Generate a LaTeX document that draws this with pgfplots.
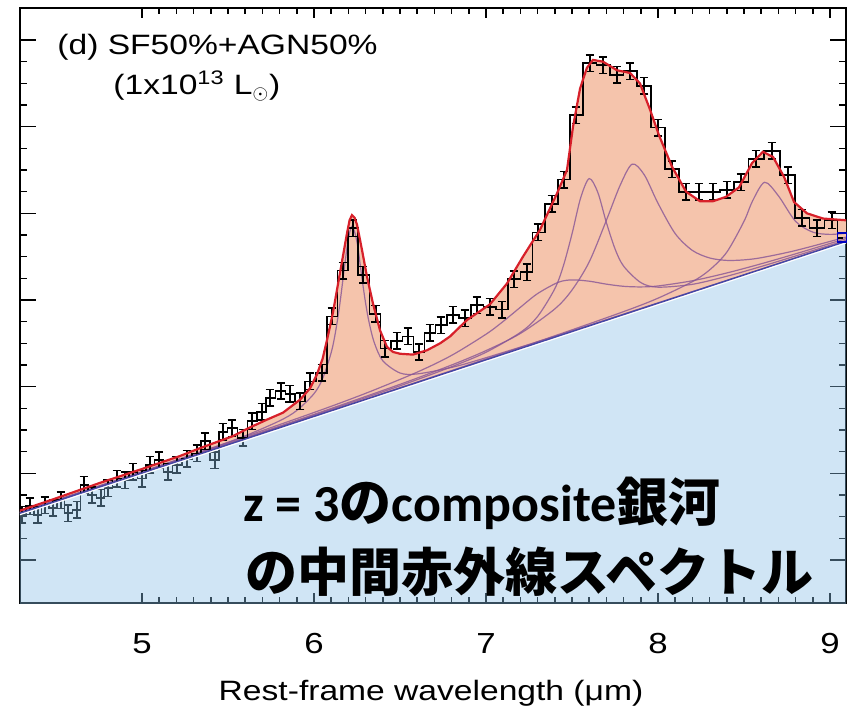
\documentclass[border=0pt]{standalone}
\usepackage{fontspec}
\setmainfont{Liberation Sans}[FakeStretch=1.2]
\newfontfamily\jp{Noto Sans CJK JP}
\newfontfamily\lat{Carlito}
\usepackage{pgfplots}
\pgfplotsset{compat=1.18}
\definecolor{salmon}{RGB}{245,196,172}
\definecolor{skyb}{RGB}{137,190,230}
\definecolor{fitred}{RGB}{215,32,42}
\definecolor{comp}{RGB}{135,85,150}
\definecolor{contl}{RGB}{70,70,165}
\begin{document}
\begin{tikzpicture}
\useasboundingbox (0,0) rectangle (425.5pt,354pt);
\begin{axis}[
 at={(10pt,52.5pt)}, anchor=south west, scale only axis,
 width=413pt, height=297.5pt,
 xmin=4.291, xmax=9.093, ymin=-0.496, ymax=6.369,
 xtick={5,6,7,8,9}, minor x tick num=9,
 ytick={0,1,2,3,4,5,6}, minor y tick num=3, yticklabels={},
 tick align=inside, xtick pos=both, ytick pos=both,
 major tick length=8pt, minor tick length=3.5pt,
 major x tick style={/pgfplots/major tick length=5pt},
 minor x tick style={/pgfplots/minor tick length=3pt},
 tick style={black, line width=0.8pt},
 axis line style={line width=1pt},
 /pgf/number format/assume math mode=true,
 xticklabel style={font=\fontsize{14.5}{16}\selectfont, yshift=-11.5pt},
]
% orange area between fit and continuum
\addplot[fill=salmon, draw=none] coordinates {
(4.291,0.57) (4.483,0.70) (4.756,0.89) (5.0,1.05) (5.221,1.20) (5.337,1.29) (5.529,1.43) (5.628,1.53) (5.727,1.62) (5.820,1.70) (5.919,1.85) (5.977,1.98) (6.017,2.14) (6.050,2.32) (6.076,2.54) (6.110,2.85) (6.151,3.31) (6.192,3.77) (6.207,3.92) (6.221,3.98) (6.236,3.95) (6.250,3.87) (6.279,3.58) (6.308,3.27) (6.343,2.96) (6.384,2.65) (6.424,2.46) (6.460,2.40) (6.500,2.38) (6.576,2.37) (6.657,2.42) (6.733,2.50) (6.791,2.58) (6.890,2.77) (7.023,2.95) (7.122,3.19) (7.215,3.50) (7.314,3.81) (7.413,4.23) (7.471,4.50) (7.506,5.00) (7.547,5.44) (7.587,5.68) (7.622,5.77) (7.680,5.75) (7.762,5.65) (7.837,5.62) (7.895,5.50) (7.953,5.20) (8.006,4.90) (8.081,4.54) (8.163,4.25) (8.244,4.14) (8.320,4.14) (8.395,4.19) (8.471,4.30) (8.547,4.58) (8.610,4.71) (8.669,4.65) (8.733,4.42) (8.791,4.13) (8.866,4.00) (8.959,3.94) (9.093,3.92)
(9.093,3.6746) (4.291,0.5406)} -- cycle;
% components
\addplot[comp, line width=0.6pt, smooth, opacity=0.8] coordinates {
(4.291,0.545) (5.0,1.014) (5.4,1.287) (5.6,1.433) (5.8,1.606) (5.9,1.725) (6.0,1.919) (6.05,2.092) (6.1,2.392) (6.125,2.629) (6.15,2.949) (6.18,3.422) (6.2,3.708) (6.222,3.852) (6.25,3.670) (6.28,3.238) (6.3,2.966) (6.32,2.746) (6.35,2.512) (6.4,2.299) (6.5,2.158) (6.6,2.147) (6.8,2.222) (7.0,2.334) (7.4,2.581) (8.0,2.967) (9.093,3.676)};
\addplot[comp, line width=0.6pt, smooth, opacity=0.8] coordinates {
(4.291,0.551) (5.0,1.020) (5.5,1.356) (6.0,1.702) (6.3,1.923) (6.6,2.168) (6.8,2.361) (7.0,2.605) (7.1,2.753) (7.2,2.916) (7.3,3.074) (7.42,3.204) (7.5,3.232) (7.6,3.217) (7.7,3.183) (7.8,3.158) (7.9,3.151) (8.0,3.162) (8.2,3.222) (8.4,3.312) (8.6,3.418) (8.8,3.533) (9.093,3.708)};
\addplot[comp, line width=0.6pt, smooth, opacity=0.8] coordinates {
(4.291,0.549) (5.5,1.338) (6.0,1.670) (6.5,2.010) (6.8,2.230) (7.0,2.397) (7.2,2.626) (7.3,2.810) (7.4,3.130) (7.45,3.395) (7.5,3.762) (7.55,4.176) (7.6,4.401) (7.65,4.242) (7.7,3.893) (7.75,3.591) (7.8,3.391) (7.9,3.201) (8.0,3.148) (8.2,3.181) (8.4,3.274) (8.6,3.387) (8.8,3.508) (9.093,3.689)};
\addplot[comp, line width=0.6pt, smooth, opacity=0.8] coordinates {
(4.291,0.547) (5.5,1.345) (6.0,1.680) (6.5,2.027) (6.8,2.250) (7.0,2.416) (7.2,2.614) (7.4,2.897) (7.5,3.115) (7.6,3.439) (7.7,3.920) (7.78,4.324) (7.85,4.568) (7.92,4.445) (8.0,4.116) (8.1,3.766) (8.2,3.572) (8.3,3.485) (8.4,3.457) (8.5,3.463) (8.6,3.488) (8.8,3.571) (9.093,3.726)};
\addplot[comp, line width=0.6pt, smooth, opacity=0.8] coordinates {
(4.291,0.543) (6.0,1.660) (6.5,1.988) (7.0,2.319) (7.4,2.587) (7.8,2.866) (8.0,3.021) (8.2,3.212) (8.3,3.347) (8.4,3.552) (8.5,3.908) (8.55,4.144) (8.62,4.358) (8.7,4.202) (8.8,3.907) (8.9,3.783) (9.0,3.757) (9.093,3.771)};
% data histogram
\addplot[const plot mark mid, black, line width=0.9pt] coordinates {
(4.28,0.52) (4.302,0.52) (4.349,0.62) (4.395,0.52) (4.436,0.63) (4.483,0.60) (4.529,0.69) (4.570,0.54) (4.622,0.58) (4.663,0.87) (4.709,0.75) (4.762,0.72) (4.802,0.83) (4.855,0.94) (4.901,0.92) (4.948,1.02) (5.000,0.94) (5.047,1.10) (5.099,1.15) (5.151,1.02) (5.203,1.10) (5.262,1.17) (5.320,1.23) (5.366,1.37) (5.424,1.15) (5.471,1.48) (5.523,1.52) (5.587,1.41) (5.640,1.60) (5.698,1.71) (5.744,1.87) (5.808,1.95) (5.860,1.92) (5.919,1.83) (5.977,2.06) (6.047,2.16) (6.105,2.81) (6.169,3.34) (6.227,3.83) (6.285,3.29) (6.360,2.84) (6.413,2.44) (6.483,2.53) (6.547,2.58) (6.610,2.40) (6.674,2.62) (6.738,2.71) (6.808,2.83) (6.878,2.79) (6.948,2.94) (7.023,2.92) (7.093,2.89) (7.163,3.24) (7.238,3.32) (7.302,3.78) (7.384,4.11) (7.453,4.39) (7.523,5.13) (7.605,5.73) (7.680,5.71) (7.762,5.60) (7.837,5.64) (7.919,5.47) (8.000,4.99) (8.081,4.51) (8.163,4.25) (8.238,4.25) (8.320,4.25) (8.401,4.27) (8.483,4.36) (8.570,4.63) (8.663,4.72) (8.756,4.44) (8.837,3.95) (8.924,3.83) (9.012,3.92) (9.075,3.72)};
\addplot[draw=none, mark=none, error bars/.cd, y dir=both, y fixed=0.095,
 error bar style={draw=black, line width=0.75pt},
 error mark options={draw=black, rotate=90, mark size=2.2pt, line width=0.75pt}] coordinates {
(4.302,0.52) (4.349,0.62) (4.395,0.52) (4.436,0.63) (4.483,0.60) (4.529,0.69) (4.570,0.54) (4.622,0.58) (4.663,0.87) (4.709,0.75) (4.762,0.72) (4.802,0.83) (4.855,0.94) (4.901,0.92) (4.948,1.02) (5.000,0.94) (5.047,1.10) (5.099,1.15) (5.151,1.02) (5.203,1.10) (5.262,1.17) (5.320,1.23) (5.366,1.37) (5.424,1.15) (5.471,1.48) (5.523,1.52) (5.587,1.41) (5.640,1.60) (5.698,1.71) (5.744,1.87) (5.808,1.95) (5.860,1.92) (5.919,1.83) (5.977,2.06) (6.047,2.16) (6.105,2.81) (6.169,3.34) (6.227,3.83) (6.285,3.29) (6.360,2.84) (6.413,2.44) (6.483,2.53) (6.547,2.58) (6.610,2.40) (6.674,2.62) (6.738,2.71) (6.808,2.83) (6.878,2.79) (6.948,2.94) (7.023,2.92) (7.093,2.89) (7.163,3.24) (7.238,3.32) (7.302,3.78) (7.384,4.11) (7.453,4.39) (7.523,5.13) (7.605,5.73) (7.680,5.71) (7.762,5.60) (7.837,5.64) (7.919,5.47) (8.000,4.99) (8.081,4.51) (8.163,4.25) (8.238,4.25) (8.320,4.25) (8.401,4.27) (8.483,4.36) (8.570,4.63) (8.663,4.72) (8.756,4.44) (8.837,3.95) (8.924,3.83) (9.012,3.92)};
% total fit
\addplot[fitred, line width=1.1pt] coordinates {
(4.291,0.57) (4.483,0.70) (4.756,0.89) (5.0,1.05) (5.221,1.20) (5.337,1.29) (5.529,1.43) (5.628,1.53) (5.727,1.62) (5.820,1.70) (5.919,1.85) (5.977,1.98) (6.017,2.14) (6.050,2.32) (6.076,2.54) (6.110,2.85) (6.151,3.31) (6.192,3.77) (6.207,3.92) (6.221,3.98) (6.236,3.95) (6.250,3.87) (6.279,3.58) (6.308,3.27) (6.343,2.96) (6.384,2.65) (6.424,2.46) (6.460,2.40) (6.500,2.38) (6.576,2.37) (6.657,2.42) (6.733,2.50) (6.791,2.58) (6.890,2.77) (7.023,2.95) (7.122,3.19) (7.215,3.50) (7.314,3.81) (7.413,4.23) (7.471,4.50) (7.506,5.00) (7.547,5.44) (7.587,5.68) (7.622,5.77) (7.680,5.75) (7.762,5.65) (7.837,5.62) (7.895,5.50) (7.953,5.20) (8.006,4.90) (8.081,4.54) (8.163,4.25) (8.244,4.14) (8.320,4.14) (8.395,4.19) (8.471,4.30) (8.547,4.58) (8.610,4.71) (8.669,4.65) (8.733,4.42) (8.791,4.13) (8.866,4.00) (8.959,3.94) (9.093,3.92)};
% continuum (blue area)
\addplot[fill=skyb, fill opacity=0.4, draw=none] coordinates {(4.2,-1) (4.2,0.4812) (9.2,3.7462) (9.2,-1)} -- cycle;
\addplot[white, line width=0.8pt] coordinates {(4.2,0.4662) (9.2,3.7312)};
\addplot[contl, line width=0.7pt] coordinates {(4.2,0.4812) (9.2,3.7462)};
\addplot[only marks, mark=square, mark size=2.2pt, draw=blue!75!black, line width=0.8pt] coordinates {(9.07,3.72)};
\end{axis}
\node[anchor=base west, inner sep=0, font=\fontsize{14}{16}\selectfont] at (28.5pt,326.5pt) {(d) SF50\%+AGN50\%};
\node[anchor=base west, inner sep=0, font=\fontsize{14}{16}\selectfont] at (56.5pt,306.5pt) {(1x10\textsuperscript{13} L$_\odot$)};
\node[anchor=base west, inner sep=0, font=\jp\bfseries\fontsize{26}{30}\selectfont] at (121.5pt,93.5pt) {{\lat\bfseries z = 3}の{\lat\bfseries composite}銀河};
\node[anchor=base west, inner sep=0, font=\jp\bfseries\fontsize{26}{30}\selectfont] at (122.5pt,58.5pt) {の中間赤外線スペクトル};
\node[anchor=base, inner sep=0, font=\fontsize{14}{16}\selectfont] at (215.5pt,4pt) {Rest-frame wavelength (μm)};
\end{tikzpicture}
\end{document}
